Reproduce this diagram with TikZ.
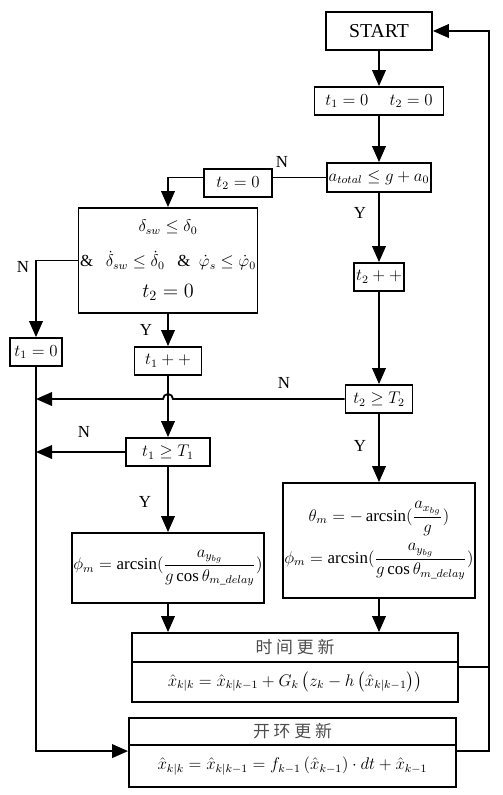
\documentclass[tikz,border=0pt]{standalone}
\usepackage{amsmath}
\usepackage{fontspec}
\setmainfont{Liberation Serif}
\newfontfamily\cjk{Noto Sans CJK SC}
\usetikzlibrary{arrows.meta}

\begin{document}
\begin{tikzpicture}[x=0.025cm, y=-0.025cm, line width=1.3pt,
    font=\fontsize{12}{14}\selectfont,
    box/.style={draw, align=center, inner sep=1pt},
    arr/.style={-{Triangle[length=0.4cm, width=0.34cm]}},
    lab/.style={font=\fontsize{12}{14}\selectfont}]
    \useasboundingbox (0,0) rectangle (503,795);

    % right column
    \node[box, minimum width=2.65cm,  minimum height=0.95cm, font=\fontsize{14}{16}\selectfont] (start) at (379, 31.0) {START};
    \node[box, minimum width=3.225cm, minimum height=0.7cm]   (init)  at (379,101.0) {$t_1=0$\quad\ $t_2=0$};
    \node[box, minimum width=2.35cm,  minimum height=0.725cm] (atot)  at (379,177.5) {$a_{total}\le g+a_0$};
    \node[box, minimum width=1.25cm,  minimum height=0.7cm]   (t2pp)  at (379,277.0) {$t_2++$};
    \node[box, minimum width=1.675cm, minimum height=0.7cm]   (t2ge)  at (379,399.0) {$t_2\ge T_2$};
    \node[box, minimum width=4.675cm, minimum height=2.875cm] (theta) at (379,540.5)
        {$\theta_m=-\arcsin(\dfrac{a_{x_{bg}}}{g})$\hspace{1.2em}\\[4pt]
         $\phi_m=\arcsin(\dfrac{a_{y_{bg}}}{g\cos\theta_{m\_delay}})$};

    % left column
    \node[box, minimum width=1.7cm,   minimum height=0.7cm]   (t2z)   at (238,183.0) {$t_2=0$};
    \node[box, minimum width=4.475cm, minimum height=2.625cm] (cond)  at (168,260.5)
        {$\delta_{sw}\le\delta_0$\\[11pt]
         \&\ \ \ $\dot\delta_{sw}\le\dot\delta_0$\ \ \ \&\ \ $\dot\varphi_s\le\dot\varphi_0$\\[8pt]
         {\fontsize{14}{16}\selectfont$t_2=0$}\hspace{1.5em}};
    \node[box, minimum width=1.3cm,   minimum height=0.7cm]   (t1z)   at ( 36,352.0) {$t_1=0$};
    \node[box, minimum width=1.675cm, minimum height=0.7cm]   (t1pp)  at (168,361.0) {$t_1++$};
    \node[box, minimum width=2.1cm,   minimum height=0.7cm]   (t1ge)  at (168,452.0) {$t_1\ge T_1$};
    \node[box, minimum width=4.675cm, minimum height=1.75cm]  (phi)   at (168,568.0)
        {$\phi_m=\arcsin(\dfrac{a_{y_{bg}}}{g\cos\theta_{m\_delay}})$};

    % update boxes
    \node[box, minimum width=8.15cm,  minimum height=0.725cm] (tu)    at (295,647.5) {\cjk\color{black!70}时 间 更 新};
    \node[box, minimum width=8.15cm,  minimum height=1.0cm]   (tuf)   at (295,682.0)
        {$\hat x_{k|k}=\hat x_{k|k-1}+G_k\left(z_k-h\left(\hat x_{k|k-1}\right)\right)$};
    \node[box, minimum width=8.175cm, minimum height=0.675cm] (ol)    at (292.5,731.5) {\cjk\color{black!70}开 环 更 新};
    \node[box, minimum width=8.175cm, minimum height=1.05cm]  (olf)   at (292.5,766.0)
        {$\hat x_{k|k}=\hat x_{k|k-1}=f_{k-1}\left(\hat x_{k-1}\right)\cdot dt+\hat x_{k-1}$};

    \coordinate (loop) at (489,31);
    \coordinate (hop)  at (t1pp.south |- t2ge.west);

    \draw[arr] (start) -- (init);
    \draw[arr] (init) -- (atot);
    \draw (atot.west) -- (t2z.east |- atot.west);
    \draw[arr] (t2z.west |- atot.west) -| (cond.north);
    \draw[arr] (atot) -- (t2pp);
    \draw[arr] (cond.west) -| (t1z.north);
    \draw[arr] (cond) -- (t1pp);
    \draw[arr] (t2pp) -- (t2ge);
    \draw[arr] (t2ge.west) -- ([xshift=0.125cm]hop) arc[start angle=0, end angle=180, radius=0.125cm]
        -- (t1z.south |- t2ge.west);
    \draw[arr] (t1pp) -- (t1ge);
    \draw[arr] (t1ge.west) -- (t1z.south |- t1ge.west);
    \draw[arr] (t1ge) -- (phi);
    \draw[arr] (t2ge) -- (theta);
    \draw[arr] (phi) -- (phi.south |- tu.north);
    \draw[arr] (theta) -- (theta.south |- tu.north);

    \draw ([yshift=-0.15cm]tuf.north east) -- ([yshift=-0.15cm]tuf.north east -| loop);
    \draw[arr] ([yshift=-0.175cm]olf.north east) -| (loop) -- (start.east);
    \draw[arr] (t1z.south) |- ([yshift=-0.175cm]olf.north west);

    % labels
    \node[lab] (n1) at (282,162) {N};
    \node[lab] (y1) at (360,213) {Y};
    \node[lab] (n2) at ( 23,267) {N};
    \node[lab] (y2) at (146,330) {Y};
    \node[lab] (n3) at (284,383) {N};
    \node[lab] (n4) at ( 84,432) {N};
    \node[lab] (y3) at (360,446) {Y};
    \node[lab] (y4) at (145,502) {Y};
\end{tikzpicture}
\end{document}
